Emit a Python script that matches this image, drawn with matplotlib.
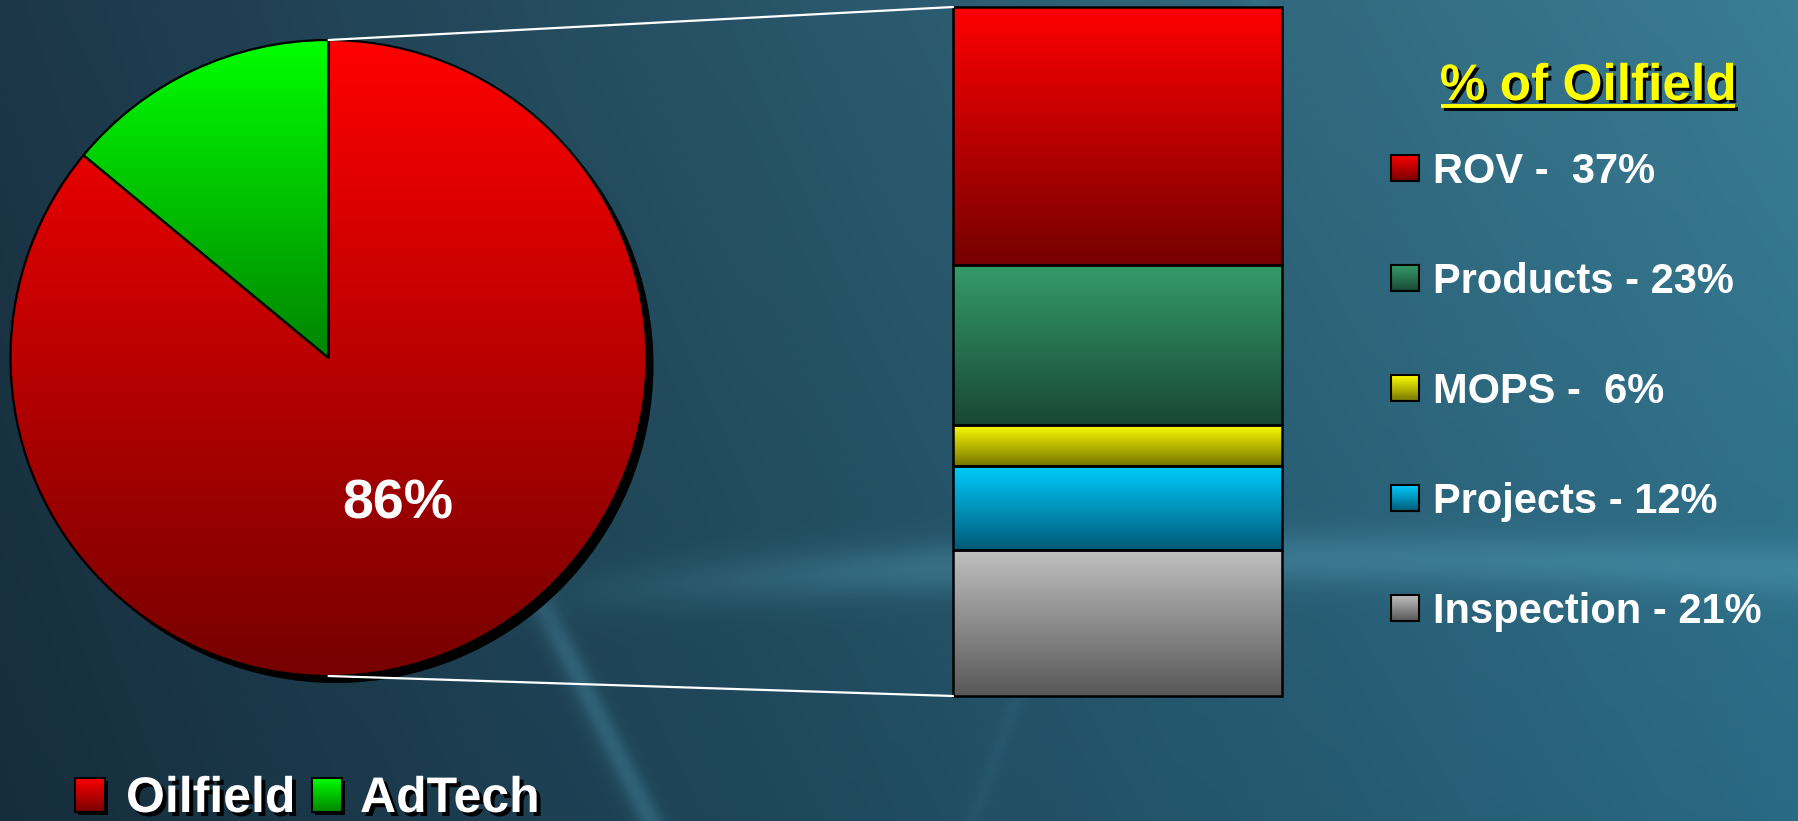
import numpy as np
import matplotlib
matplotlib.use("Agg")
import matplotlib.pyplot as plt
from matplotlib.patches import Rectangle, ConnectionPatch
from matplotlib.colors import LinearSegmentedColormap, to_rgb
import matplotlib.patheffects as pe
import matplotlib.transforms as mtrans

plt.rcParams['font.family'] = ['Liberation Sans', 'DejaVu Sans']

# ---------------- data ----------------
pie_labels = ['Oilfield', 'AdTech']
pie_values = [86, 14]
pie_top_colors = ['#ff0000', '#00ff00']
pie_bottom_colors = ['#760000', '#008400']

oil_categories = ['ROV', 'Products', 'MOPS', 'Projects', 'Inspection']
oil_values = [37, 23, 6, 12, 21]
oil_labels = ['ROV -  37%', 'Products - 23%', 'MOPS -  6%', 'Projects - 12%', 'Inspection - 21%']
bar_top_colors = ['#ff0000', '#359c6a', '#ffff00', '#00ccff', '#c0c0c0']
bar_bottom_colors = ['#760000', '#184834', '#767600', '#005a78', '#585858']
legend_title = '% of Oilfield'

W, H = 1799, 821
fig = plt.figure(figsize=(W / 100, H / 100), dpi=100)

# ---------------- background ----------------
ax_bg = fig.add_axes([0, 0, 1, 1], zorder=-10)
yy, xx = np.mgrid[0:H, 0:W].astype(float)
u = xx / W
v = yy / H
TL = np.array(to_rgb('#1c3748')); TR = np.array(to_rgb('#3a7d94'))
BL = np.array(to_rgb('#162d3c')); BR = np.array(to_rgb('#2a6a84'))
img = (TL[None, None] * ((1 - u) * (1 - v))[..., None] + TR[None, None] * (u * (1 - v))[..., None]
       + BL[None, None] * ((1 - u) * v)[..., None] + BR[None, None] * (u * v)[..., None])
# soft light streaks
band1 = np.exp(-((yy - (560 + 0.00006 * (xx - 1500) ** 2 + 0.02 * (xx - 1500))) / 26.0) ** 2) * np.clip((xx - 480) / 450, 0, 1)
band2 = np.exp(-((xx - (520 + 0.5 * (yy - 560))) / 14.0) ** 2) * np.clip((yy - 500) / 150, 0, 1)
band3 = np.exp(-((xx - (1260 - 0.35 * yy)) / 10.0) ** 2) * 0.5
glow = np.array(to_rgb('#5aa8c0'))
for b, a in [(band1, 0.35), (band2, 0.3), (band3, 0.15)]:
    img = img * (1 - a * b[..., None]) + glow[None, None] * (a * b[..., None])
ax_bg.imshow(img, extent=(0, W, H, 0), aspect='auto', interpolation='bilinear')
ax_bg.set_xlim(0, W); ax_bg.set_ylim(H, 0)
ax_bg.axis('off')


def grad_fill(ax, patch, top, bottom, extent, z):
    cmap = LinearSegmentedColormap.from_list('g', [bottom, top])
    g = np.linspace(0, 1, 256).reshape(-1, 1)
    im = ax.imshow(g, extent=extent, origin='lower', cmap=cmap, aspect='auto',
                   zorder=z, interpolation='bilinear')
    im.set_clip_path(patch)
    return im


# ---------------- pie ----------------
cx, cy, R = 328.5, 358.0, 318.0
ax_pie = fig.add_axes([(cx - R) / W, (H - cy - R) / H, 2 * R / W, 2 * R / H])
# shadow
sh_w, _ = ax_pie.pie([sum(pie_values)], colors=['black'], radius=1, startangle=90,
                     wedgeprops=dict(linewidth=0))
off = mtrans.ScaledTranslation(0.07, -0.07, fig.dpi_scale_trans)
for w in sh_w:
    w.set_transform(ax_pie.transData + off)
    w.set_zorder(1)
wedges, texts, autotexts = ax_pie.pie(
    pie_values, colors=pie_top_colors, startangle=90, counterclock=False, radius=1,
    autopct=lambda p: f'{p:.0f}%' if p > 50 else '', pctdistance=0.51,
    wedgeprops=dict(edgecolor='black', linewidth=1.6),
    textprops=dict(color='white', fontsize=40, fontweight='bold'))
ax_pie.set_xlim(-1, 1); ax_pie.set_ylim(-1, 1)
ax_pie.set_aspect('auto')
for i, w in enumerate(wedges):
    if i == 0:
        ext = (-1, 1, -1, 1)
    else:
        bb = w.get_path().get_extents()
        ext = (bb.x0, bb.x1, bb.y0, bb.y1)
    grad_fill(ax_pie, w, pie_top_colors[i], pie_bottom_colors[i], ext, 2)
    w.set_facecolor('none')
    w.set_zorder(3)
for t in autotexts:
    t.set_zorder(5)
ax_pie.axis('off')

# ---------------- stacked bar ----------------
bx0, bx1, by0, by1 = 953, 1282, 7, 696
ax_bar = fig.add_axes([bx0 / W, (H - by1) / H, (bx1 - bx0) / W, (by1 - by0) / H])
total = sum(oil_values)
n = len(oil_values)
bottoms = [sum(oil_values[i + 1:]) for i in range(n)]
bars = ax_bar.bar(np.zeros(n), oil_values, bottom=bottoms, width=1.0, color=bar_top_colors,
                  edgecolor='black', linewidth=1.8, zorder=3)
for rect, top, bot in zip(bars, bar_top_colors, bar_bottom_colors):
    x0, y0, ww, hh = rect.get_x(), rect.get_y(), rect.get_width(), rect.get_height()
    grad_fill(ax_bar, rect, top, bot, (x0, x0 + ww, y0, y0 + hh), 2)
    rect.set_facecolor('none')
    rect.set_clip_on(False)
ax_bar.set_xlim(-0.5, 0.5); ax_bar.set_ylim(0, total)
ax_bar.axis('off')

# ---------------- connector lines ----------------
for (pa, pb) in [((0, 1), (-0.5, total)), ((0, -1), (-0.5, 0))]:
    con = ConnectionPatch(xyA=pa, coordsA=ax_pie.transData, xyB=pb, coordsB=ax_bar.transData,
                          color='white', linewidth=1.6, zorder=6)
    fig.add_artist(con)

# ---------------- overlay (legends) ----------------
ax_ov = fig.add_axes([0, 0, 1, 1], zorder=10)
ax_ov.set_xlim(0, W); ax_ov.set_ylim(H, 0)
ax_ov.axis('off')
ax_ov.patch.set_alpha(0)


def txt_shadow(px):
    d = px * 0.72
    return [pe.withSimplePatchShadow(offset=(d, -d), shadow_rgbFace='black', alpha=1.0)]


def legend_box(x, y, w, h, top, bot, shadow=2.5):
    sh = Rectangle((x + shadow, y + shadow), w, h, facecolor='black', edgecolor='none', zorder=1)
    ax_ov.add_patch(sh)
    r = Rectangle((x, y), w, h, facecolor=top, edgecolor='black', linewidth=1.5, zorder=3)
    ax_ov.add_patch(r)
    grad_fill(ax_ov, r, top, bot, (x, x + w, y + h, y), 2)
    r.set_facecolor('none')


# right legend
title = ax_ov.text(1588, 100, legend_title, color='#ffff00', fontsize=37, fontweight='bold',
                   ha='center', va='baseline', zorder=5, path_effects=txt_shadow(3))
fig.canvas.draw()
bb = title.get_window_extent(fig.canvas.get_renderer())
inv = ax_ov.transData.inverted()
(tx0, _), (tx1, _) = inv.transform([(bb.x0, bb.y0), (bb.x1, bb.y1)])
ax_ov.plot([tx0 + 1, tx1 - 1], [106.5, 106.5], color='#ffff00', linewidth=2.8, solid_capstyle='butt',
           zorder=5, path_effects=[pe.SimpleLineShadow(offset=(2, -2), shadow_color='black', alpha=1.0), pe.Normal()])

for i, (lab, top, bot) in enumerate(zip(oil_labels, bar_top_colors, bar_bottom_colors)):
    yc = 168 + i * 110
    legend_box(1391, yc - 13, 28, 26, top, bot, shadow=1.5)
    ax_ov.text(1433, yc + 15, lab, color='white', fontsize=30, fontweight='bold',
               ha='left', va='baseline', zorder=5)

# bottom legend
bottom_pos = [(75, 126), (312, 360)]
for (mx, tx), lab, top, bot in zip(bottom_pos, pie_labels, pie_top_colors, pie_bottom_colors):
    legend_box(mx, 778, 30, 34, top, bot, shadow=3.5)
    ax_ov.text(tx, 812, lab, color='white', fontsize=36, fontweight='bold',
               ha='left', va='baseline', zorder=5, path_effects=txt_shadow(4))

fig.savefig('out.png', dpi=100)
